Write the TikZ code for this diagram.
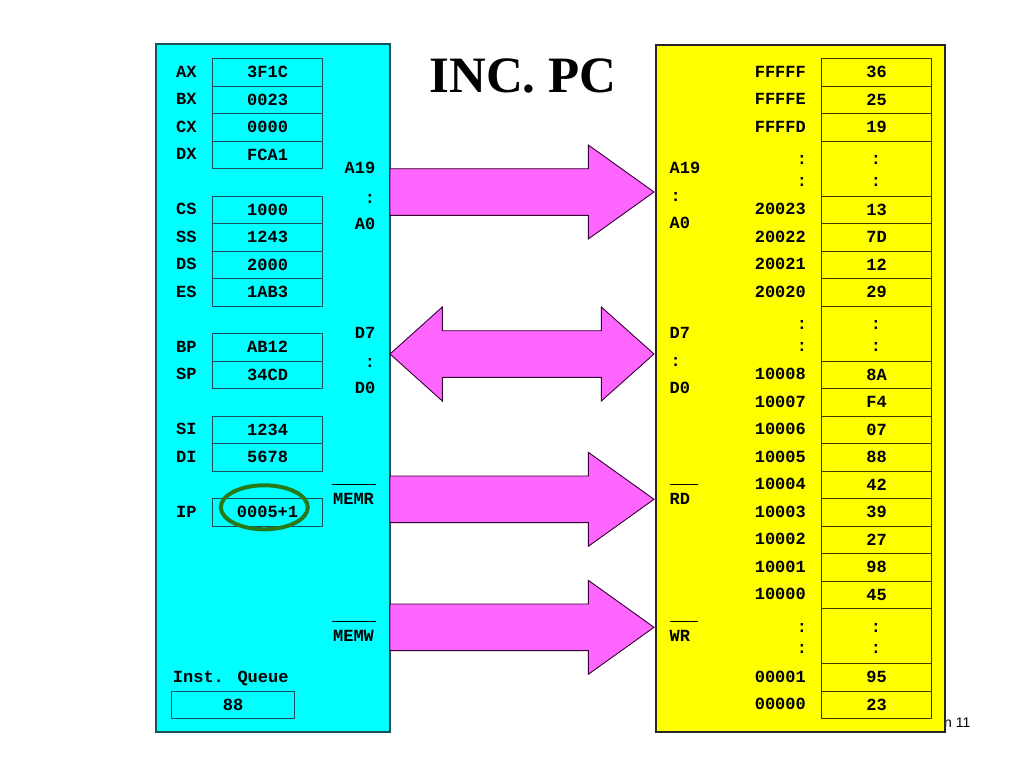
\documentclass[tikz,border=0pt]{standalone}
\usepackage{fontspec}
\setmainfont{Liberation Serif}
\newfontfamily\monof{Liberation Mono}
\newfontfamily\sansf{Liberation Sans}
\usetikzlibrary{shapes.geometric}
\definecolor{cyanfill}{HTML}{00FFFF}
\definecolor{yelfill}{HTML}{FFFF00}
\definecolor{cyanline}{HTML}{1A4F5A}
\definecolor{yelline}{HTML}{403A00}
\definecolor{pinkfill}{HTML}{FF66FF}
\definecolor{pinkline}{HTML}{330033}
\definecolor{ringgreen}{HTML}{267A1A}
\tikzset{
  mono/.style={font=\monof\bfseries\fontsize{17}{20}\selectfont, text=black, inner sep=0pt, text height=10pt, text depth=0pt},
  lab/.style={mono, anchor=west},
  rlab/.style={mono, anchor=east},
  dotlab/.style={mono, anchor=center},
  regcell/.style={mono, draw=cyanline, line width=1.1pt, minimum width=110pt, minimum height=27.5pt, anchor=north west},
  memcell/.style={mono, draw=yelline, line width=1.1pt, minimum width=110pt, minimum height=27.5pt, anchor=north west},
  gapcell/.style={memcell, minimum height=55pt},
  cpupanel/.style={fill=cyanfill, draw=cyanline, line width=1.2pt},
  mempanel/.style={fill=yelfill, draw=black!85, line width=1.2pt},
  busarrow/.style={fill=pinkfill, draw=pinkline, line width=0.9pt, line join=miter},
  ring/.style={ellipse, draw=ringgreen, line width=4pt, inner sep=0pt, minimum width=87pt, minimum height=44pt},
  barline/.style={draw=black, line width=0.9pt}
}
\begin{document}
\begin{tikzpicture}[x=1pt,y=-1pt]
\fill[white] (0,0) rectangle (1024,768);
\useasboundingbox (0,0) rectangle (1024,768);

% page number text partly hidden behind the memory panel
\node[font=\sansf\fontsize{14}{16}\selectfont, anchor=base east, inner sep=0pt] (pagenum) at (970.5,727) {n 11};

% panels
\draw[cpupanel] (156,44) rectangle (390,732);
\draw[mempanel] (656,45) rectangle (945,732);

% title
\node[font=\bfseries\fontsize{51}{56}\selectfont, anchor=base, inner sep=0pt] (title) at (523,92.5) {INC. PC};

% registers
\foreach \n/\v/\y in {AX/3F1C/58.3, BX/0023/85.8, CX/0000/113.3, DX/FCA1/140.8,
                      CS/1000/195.8, SS/1243/223.3, DS/2000/250.8, ES/1AB3/278.3,
                      BP/AB12/333.3, SP/34CD/360.8, SI/1234/415.8, DI/5678/443.3,
                      IP/0005+1/498.3}{
  \node[regcell] (reg\n) at (212,\y) {\v};
  \node[lab] (lab\n) at (176,\y+13.75) {\n};
}
\node[ring] (ring) at (264.3,507.3) {};

% instruction queue
\node[lab] (iqlab) at (172.7,677) {Inst. Queue};
\node[regcell, minimum width=123pt] (iq) at (171,690.8) {88};

% CPU side bus labels
\node[rlab] (la19) at (375.5,168.3) {A19};
\node[dotlab] (ladots) at (370,198.5) {:};
\node[rlab] (la0) at (375.5,224) {A0};
\node[rlab] (ld7) at (375.5,333.3) {D7};
\node[dotlab] (lddots) at (370,362) {:};
\node[rlab] (ld0) at (375.5,388.3) {D0};
\node[mono, anchor=center] (memr) at (353.5,499) {MEMR};
\draw[barline] (331.7,484.3) -- (375.7,484.3);
\node[mono, anchor=center] (memw) at (353.5,636) {MEMW};
\draw[barline] (331.7,621.7) -- (375.7,621.7);

% memory side bus labels
\node[lab] (ra19) at (669.5,168.3) {A19};
\node[dotlab] (radots) at (675.7,196) {:};
\node[lab] (ra0) at (669.5,223.3) {A0};
\node[lab] (rd7) at (669.5,333.3) {D7};
\node[dotlab] (rddots) at (675.7,361) {:};
\node[lab] (rd0) at (669.5,388.3) {D0};
\node[lab] (rrd) at (669.5,499) {RD};
\draw[barline] (670,484.3) -- (697.7,484.3);
\node[lab] (rwr) at (669.5,636.7) {WR};
\draw[barline] (670,621) -- (697.7,621);

% memory cells
\foreach \a/\v/\y in {FFFFF/36/58.3, FFFFE/25/85.8, FFFFD/19/113.3,
                      20023/13/195.8, 20022/7D/223.3, 20021/12/250.8, 20020/29/278.3,
                      10008/8A/360.8, 10007/F4/388.3, 10006/07/415.8, 10005/88/443.3,
                      10004/42/470.8, 10003/39/498.3, 10002/27/525.8, 10001/98/553.3,
                      10000/45/580.8, 00001/95/663.3, 00000/23/690.8}{
  \node[memcell] (m\a) at (821,\y) {\v};
  \node[rlab] (ad\a) at (806,\y+13.75) {\a};
}
\foreach \k/\y in {1/140.8, 2/305.8, 3/608.3}{
  \node[gapcell] (gap\k) at (821,\y) {};
  \node[dotlab] (gdA\k) at (876,\y+19) {:};
  \node[dotlab] (gdB\k) at (876,\y+40.5) {:};
  \node[dotlab] (adA\k) at (802,\y+19) {:};
  \node[dotlab] (adB\k) at (802,\y+40.5) {:};
}

% bus arrows
\coordinate (aS) at (390,192);
\coordinate (aT) at (654,192);
\draw[busarrow] (aS) ++(0,-23.3) -- (588.3,168.7) -- (588.3,145) -- (aT) -- (588.3,239) -- (588.3,215.3) -- (390,215.3) -- cycle;

\coordinate (dS) at (390,354);
\coordinate (dT) at (654,354);
\draw[busarrow] (dS) -- (442.3,307) -- (442.3,330.7) -- (601.3,330.7) -- (601.3,307) -- (dT) -- (601.3,401) -- (601.3,377.3) -- (442.3,377.3) -- (442.3,401) -- cycle;

\coordinate (rS) at (390,499.3);
\coordinate (rT) at (654,499.3);
\draw[busarrow] (390,476) -- (588.3,476) -- (588.3,452.3) -- (rT) -- (588.3,546.3) -- (588.3,522.6) -- (390,522.6) -- cycle;

\coordinate (wS) at (390,627.3);
\coordinate (wT) at (654,627.3);
\draw[busarrow] (390,604) -- (588.3,604) -- (588.3,580.3) -- (wT) -- (588.3,674.3) -- (588.3,650.6) -- (390,650.6) -- cycle;
\end{tikzpicture}
\end{document}
